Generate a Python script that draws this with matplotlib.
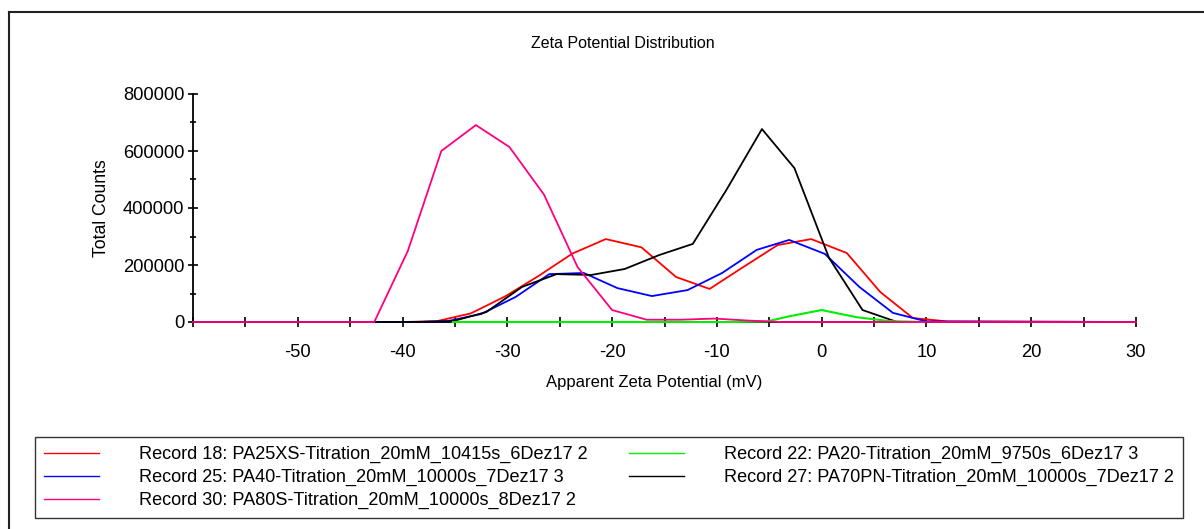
import matplotlib
matplotlib.use("Agg")
import matplotlib.pyplot as plt
from matplotlib.lines import Line2D
from matplotlib.ticker import MultipleLocator, FixedLocator

plt.rcParams["font.family"] = ["Liberation Sans", "DejaVu Sans"]
plt.rcParams["axes.unicode_minus"] = False

# Record 18 (red)
x_r18 = [-60, -39.9, -36.7, -33.5, -30.2, -27.0, -23.8, -20.6, -17.2, -13.9, -10.7,
         -7.6, -4.2, -1.0, 2.4, 5.6, 8.7, 12.0, 30]
y_r18 = [0, 0, 3000, 30000, 90000, 162000, 240000, 291000, 262000, 158000, 116000,
         190000, 270000, 291000, 242000, 105000, 14000, 2000, 0]

# Record 25 (blue)
x_r25 = [-60, -38.9, -35.7, -32.5, -29.2, -26.0, -22.7, -19.5, -16.2, -12.8, -9.5,
         -6.2, -3.1, 0.3, 3.6, 6.8, 10.0, 30]
y_r25 = [0, 0, 3000, 28000, 88000, 168000, 172000, 119000, 91000, 112000, 172000,
         253000, 288000, 239000, 123000, 32000, 2000, 0]

# Record 27 (black)
x_r27 = [-60, -38.4, -35.2, -32.0, -28.6, -25.3, -22.0, -18.8, -15.5, -12.3, -9.1,
         -5.7, -2.6, 0.7, 3.9, 7.2, 10.4, 30]
y_r27 = [0, 0, 3000, 35000, 123000, 168000, 165000, 186000, 235000, 274000, 463000,
         677000, 540000, 225000, 42000, 0, 0, 0]

# Record 22 (green)
x_r22 = [-35.2, -8.4, -5.2, -3.1, 0.0, 3.3, 6.5, 9.7]
y_r22 = [0, 0, 2000, 20000, 42000, 17000, 3000, 0]

# Record 30 (pink)
x_r30 = [-60, -42.7, -39.5, -36.3, -33.0, -29.8, -26.5, -23.3, -20.0, -16.7, -13.5,
         -10.2, -7.0, -3.8, -0.5, 2.7, 6.0, 9.2, 12.4, 30]
y_r30 = [0, 0, 249000, 600000, 691000, 614000, 447000, 193000, 42000, 8000, 8000,
         12000, 5000, 0, 0, 0, 0, 0, 0, 0]

labels = {
    "r18": "Record 18: PA25XS-Titration_20mM_10415s_6Dez17 2",
    "r25": "Record 25: PA40-Titration_20mM_10000s_7Dez17 3",
    "r30": "Record 30: PA80S-Titration_20mM_10000s_8Dez17 2",
    "r22": "Record 22: PA20-Titration_20mM_9750s_6Dez17 3",
    "r27": "Record 27: PA70PN-Titration_20mM_10000s_7Dez17 2",
}
x_ticks = [-50, -40, -30, -20, -10, 0, 10, 20, 30]
y_ticks = [0, 200000, 400000, 600000, 800000]

W, H = 1204, 529
fig = plt.figure(figsize=(W / 100, H / 100), dpi=100)
ax = fig.add_axes([193 / W, 1 - 322 / H, (1136 - 193) / W, (322 - 94) / H])

lw = 1.3
l18, = ax.plot(x_r18, y_r18, color="#ff0000", lw=lw, zorder=2, clip_on=False)
l25, = ax.plot(x_r25, y_r25, color="#0000ff", lw=lw, zorder=3, clip_on=False)
l27, = ax.plot(x_r27, y_r27, color="black", lw=lw, zorder=4, clip_on=False)
l22, = ax.plot(x_r22, y_r22, color="#00ee00", lw=1.5, zorder=5, clip_on=False)
l30, = ax.plot(x_r30, y_r30, color="#ff0080", lw=1.3, zorder=6, clip_on=False)

ax.set_xlim(-60, 30)
ax.set_ylim(0, 800000)
ax.xaxis.set_major_locator(FixedLocator(x_ticks))
ax.xaxis.set_minor_locator(MultipleLocator(5))
ax.yaxis.set_major_locator(FixedLocator(y_ticks))
ax.yaxis.set_minor_locator(MultipleLocator(100000))

for s in ["top", "right"]:
    ax.spines[s].set_visible(False)
for s in ["left", "bottom"]:
    ax.spines[s].set_linewidth(1.3)

ax.tick_params(axis="both", which="both", direction="inout", width=1.2, labelsize=13.2)
ax.tick_params(axis="x", which="major", length=6.5, pad=12.5)
ax.tick_params(axis="x", which="minor", length=6.5)
ax.tick_params(axis="y", which="major", length=6.5, pad=3)
ax.tick_params(axis="y", which="minor", length=5)

ax.set_xlabel("Apparent Zeta Potential (mV)", fontsize=12)
ax.xaxis.set_label_coords((654.5 - 193) / 943, (322 - 382) / 228)
ax.xaxis.label.set_va("center")
ax.set_ylabel("Total Counts", fontsize=12.7)
ax.yaxis.set_label_coords((101 - 193) / 943, 0.5)
ax.yaxis.label.set_va("center")

fig.text(623 / W, 1 - 43 / H, "Zeta Potential Distribution", ha="center", va="center", fontsize=11.5)

leg = fig.legend([l18, l25, l30, l22, l27],
                 [labels["r18"], labels["r25"], labels["r30"], labels["r22"], labels["r27"]],
                 loc="upper left", ncol=2, mode="expand",
                 bbox_to_anchor=(35 / W, 1 - 517 / H, 1148 / W, 80 / H),
                 fontsize=13.1, frameon=True, fancybox=False, edgecolor="black",
                 handlelength=3.0, handletextpad=2.2, borderaxespad=0, borderpad=0.5,
                 labelspacing=0.32)
leg.get_frame().set_linewidth(1.0)
for h in leg.legend_handles:
    h.set_linewidth(1.0)

# outer frame (left and top edges)
fig.add_artist(Line2D([9 / W, 9 / W], [0, 1 - 12 / H], color="#222222", lw=1.5))
fig.add_artist(Line2D([9 / W, 1], [1 - 12 / H, 1 - 12 / H], color="#222222", lw=1.5))

fig.savefig("out.png", dpi=100)
